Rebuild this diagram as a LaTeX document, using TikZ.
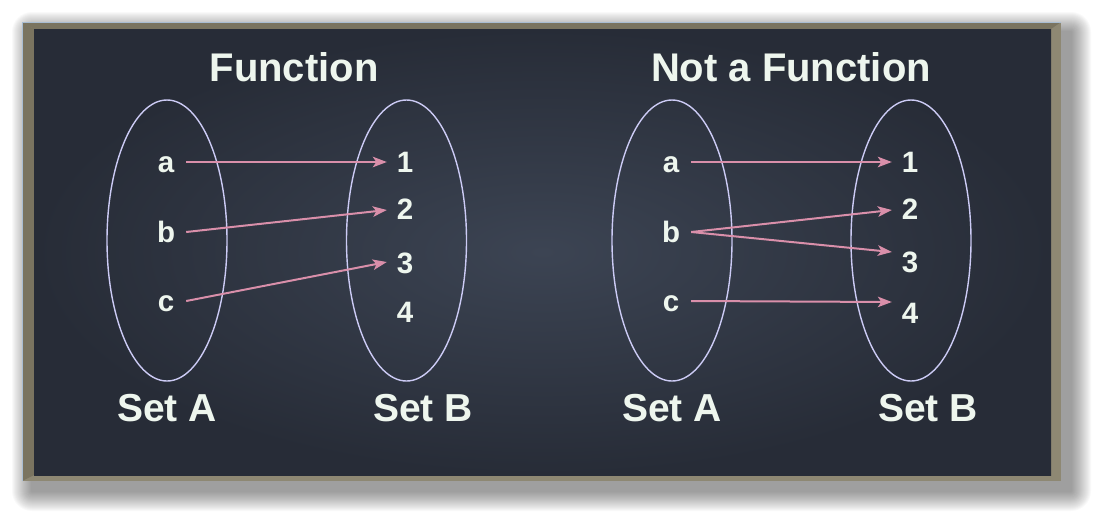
\documentclass[tikz,border=0pt]{standalone}
\usepackage{fontspec}
\setmainfont{Liberation Sans}
\usetikzlibrary{arrows.meta}
\definecolor{boardin}{HTML}{3C4453}
\definecolor{boardout}{HTML}{272C37}
\definecolor{framedark}{HTML}{7A7460}
\definecolor{framelight}{HTML}{8E8873}
\definecolor{frameedge}{HTML}{A9BDD2}
\definecolor{txtc}{HTML}{EEF6EE}
\definecolor{setc}{HTML}{CCCBF5}
\definecolor{arrc}{HTML}{D98FAA}
\tikzset{
  letter/.style={text=txtc, font=\bfseries\fontsize{29.5}{29.5}\selectfont, text height=20pt, text depth=0pt,
    text width=18pt, align=center, inner xsep=11pt, inner ysep=0pt},
  digit/.style={letter, inner xsep=9pt},
  title/.style={text=txtc, font=\bfseries\fontsize{40}{40}\selectfont, anchor=base, inner sep=0pt},
  setlabel/.style={text=txtc, font=\bfseries\fontsize{39}{39}\selectfont, anchor=base, inner sep=0pt},
  setline/.style={draw=setc, line width=1.4pt},
  arr/.style={draw=arrc, line width=2pt, -{Stealth[length=14pt,width=10.5pt,inset=3.5pt]}},
}
\begin{document}
\begin{tikzpicture}[x=1pt,y=-1pt]
\useasboundingbox (0,0) rectangle (1103,523);
% shadow
\foreach \r in {1,...,20}{
  \fill[black,opacity=0.022,rounded corners=\r pt] (32-\r,32-\r) rectangle (1071+\r,491+\r);
}
% frame
\fill[framelight] (22,22) rectangle (1061,481);
\fill[framedark] (22,22) -- (1061,22) -- (1051,29) -- (34,29) -- cycle;
\fill[framedark] (22,22) -- (34,29) -- (34,475) -- (22,481) -- cycle;
\draw[frameedge, line width=1pt] (22,481) -- (22,22) -- (1061,22);
% board
\shade[inner color=boardin, outer color=boardout] (34,29) rectangle (1051,475);

% titles
\node[title] (t1) at (294,81) {Function};
\node[title] (t2) at (791,81) {Not a Function};

% sets
\draw[setline] (167,240.5) ellipse [x radius=60, y radius=140.5];
\draw[setline] (406.5,240.5) ellipse [x radius=60, y radius=140.5];
\draw[setline] (672,240.5) ellipse [x radius=60, y radius=140.5];
\draw[setline] (911,240.5) ellipse [x radius=60, y radius=140.5];

\node[setlabel] (sa1) at (167,421) {Set A};
\node[setlabel] (sb1) at (423,421) {Set B};
\node[setlabel] (sa2) at (672,421) {Set A};
\node[setlabel] (sb2) at (928,421) {Set B};

% left diagram elements
\node[letter] (a1) at (166,162) {a};
\node[letter] (b1) at (166,232) {b};
\node[letter] (c1) at (166,301) {c};
\node[digit] (one1) at (405,162) {1};
\node[digit] (two1) at (405,209) {2};
\node[digit] (three1) at (405,263) {3};
\node[digit] (four1) at (405,312) {4};

% right diagram elements
\node[letter] (a2) at (671,162) {a};
\node[letter] (b2) at (671,232) {b};
\node[letter] (c2) at (671,301) {c};
\node[digit] (one2) at (910,162) {1};
\node[digit] (two2) at (910,209) {2};
\node[digit] (three2) at (910,262) {3};
\node[digit] (four2) at (910,313) {4};

% arrows
\draw[arr] (a1.east) -- (one1.west);
\draw[arr] (b1.east) -- ([yshift=-1pt]two1.west);
\draw[arr] (c1.east) -- ([yshift=1pt]three1.west);

\draw[arr] (a2.east) -- (one2.west);
\draw[arr] (b2.east) -- ([yshift=-1pt]two2.west);
\draw[arr] (b2.east) -- ([yshift=10pt]three2.west);
\draw[arr] (c2.east) -- ([yshift=11pt]four2.west);
\end{tikzpicture}
\end{document}
